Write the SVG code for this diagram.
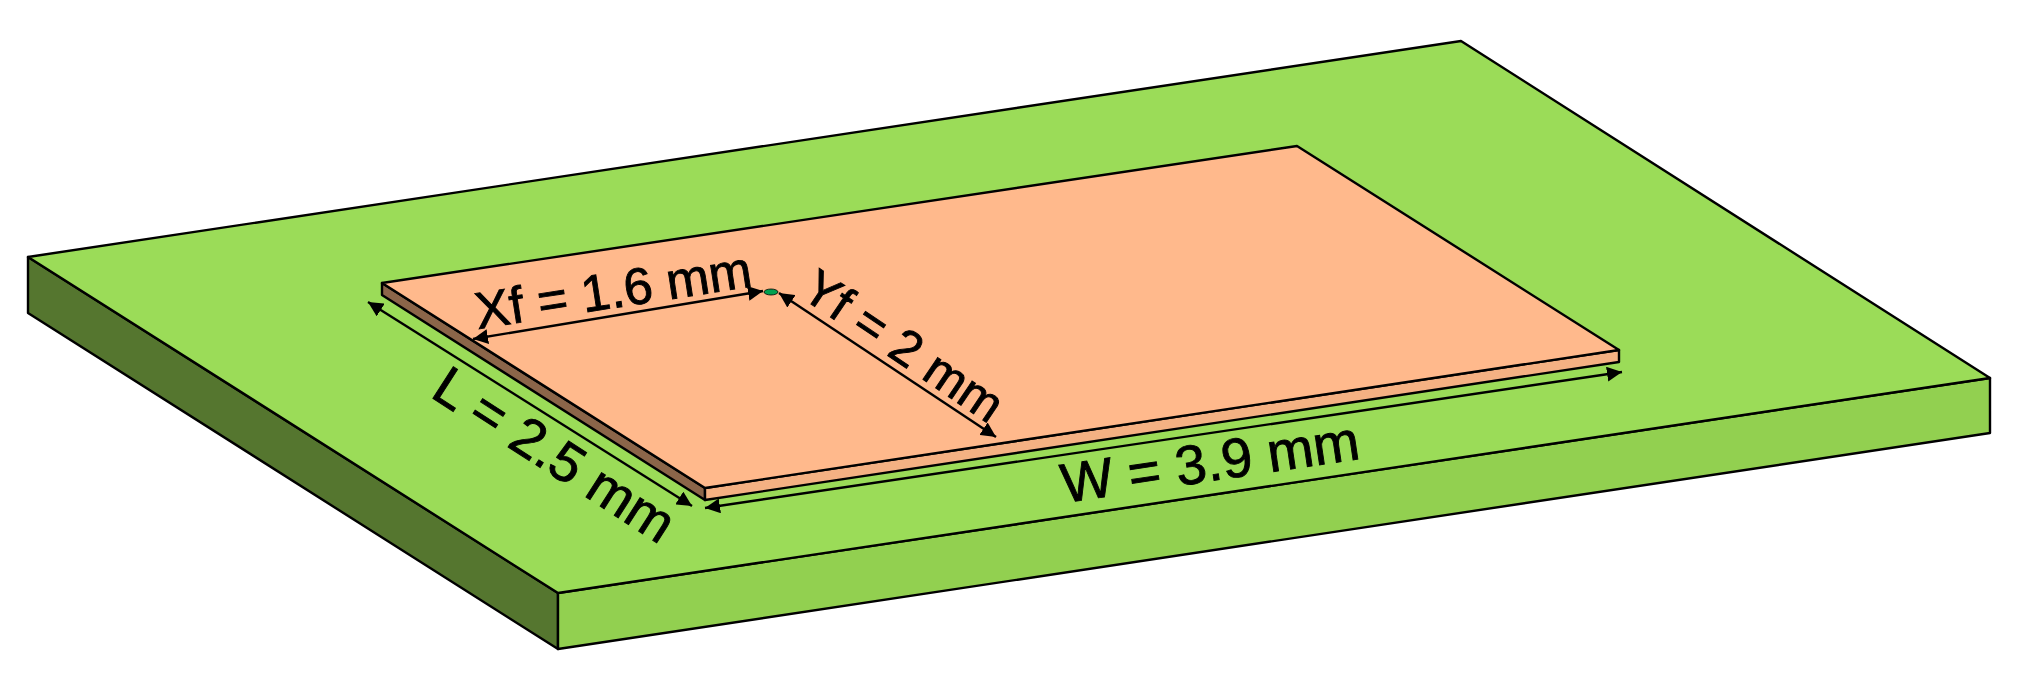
<svg xmlns="http://www.w3.org/2000/svg" width="2019" height="684" viewBox="0 0 2019 684">
<style>
.e{stroke:#000;stroke-width:2.4;stroke-linejoin:round}
.d{stroke:#000;stroke-width:2.4;fill:none;marker-start:url(#a);marker-end:url(#a)}
text{font-family:"Liberation Sans",Arial,sans-serif;fill:#000;stroke:#000;stroke-width:.9}
</style>
<defs>
<marker id="a" markerUnits="userSpaceOnUse" markerWidth="16" markerHeight="15" refX="15" refY="7.5" orient="auto-start-reverse"><path d="M0 0L15 7.5L0 15Z" fill="#000" stroke="none"/></marker>
</defs>
<rect width="2019" height="684" fill="#fff"/>
<g id="ground">
<polygon class="e" points="28,257 558,593 558,649 28,313" fill="#55762F"/>
<polygon class="e" points="558,593 1990,378 1990,433 558,649" fill="#92D050"/>
<polygon class="e" points="28,257 1461,41 1990,378 558,593" fill="#9BDC58"/>
</g>
<g id="patch">
<polygon class="e" points="382,283 705,488 705,500 382,295" fill="#8B6549"/>
<polygon class="e" points="705,488 1619,350 1619,362 705,500" fill="#F4B183"/>
<polygon class="e" points="382,283 1297,146 1619,350 705,488" fill="#FFB98C"/>
</g>
<g id="feed"><ellipse cx="771" cy="292" rx="7" ry="3" fill="#00A050" stroke="#000" stroke-width=".8"/></g>
<g id="connectors">
<line class="d" x1="368" y1="302" x2="692" y2="506"/>
<line class="d" x1="705" y1="508" x2="1622" y2="372"/>
<line class="d" x1="473" y1="339" x2="763" y2="291"/>
<line class="d" x1="779" y1="293" x2="996" y2="437"/>
</g>
<g id="labels">
<text font-size="51.5" transform="translate(478,329) rotate(-8.8)">Xf = 1.6 mm</text>
<text font-size="55" transform="translate(429,396) rotate(32.8)">L = 2.5 mm</text>
<text font-size="55.5" transform="translate(1064,503) rotate(-8.5)">W = 3.9 mm</text>
<text font-size="50" transform="translate(799,296) rotate(34)">Yf = 2 mm</text>
</g>
</svg>
